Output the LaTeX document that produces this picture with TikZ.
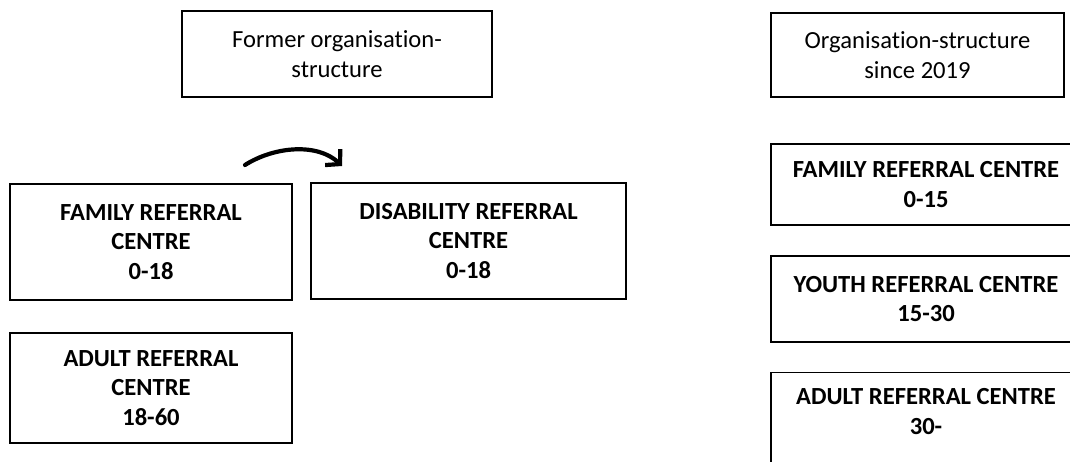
\documentclass[tikz,border=0pt]{standalone}
\usepackage{fontspec}
\setmainfont{Carlito}[Ligatures=NoCommon]
\usetikzlibrary{arrows.meta}

\begin{document}
\begin{tikzpicture}[x=0.5pt,y=-0.5pt,
	box/.style={draw,line width=0.6pt,align=center,inner sep=0pt,font=\fontsize{12.3}{14.8}\selectfont},
	unit/.style={box,font=\fontsize{12.3}{14.8}\selectfont\bfseries},
	move/.style={line width=2.1pt,line cap=round,-{Straight Barb[length=5pt,width=11pt,line width=2.1pt]}}]
	\useasboundingbox (0,0) rectangle (1070,461);
	\node[box,minimum width=155pt,minimum height=43pt] (former) at (337,54) {Former organisation-\\structure};
	\node[box,minimum width=146.5pt,minimum height=42pt] (current) at (917.5,55) {Organisation-structure\\since 2019};
	% former structure
	\node[unit,minimum width=141pt,minimum height=58pt] (family) at (151,242) {FAMILY REFERRAL\\CENTRE\\0-18};
	\node[unit,minimum width=157.5pt,minimum height=58pt] (disability) at (468.5,241) {DISABILITY REFERRAL\\CENTRE\\0-18};
	\node[unit,minimum width=141pt,minimum height=55pt] (adult) at (151,388) {ADULT REFERRAL\\CENTRE\\18-60};
	% since 2019
	\node[unit,minimum width=155pt,minimum height=40.5pt] (familyR) at (926,184.5) {FAMILY REFERRAL CENTRE\\0-15};
	\node[unit,minimum width=155pt,minimum height=43pt] (youthR) at (926,299) {YOUTH REFERRAL CENTRE\\15-30};
	\node[unit,minimum width=155pt,minimum height=50pt,anchor=north] (adultR) at (926,372) {};
	\node[unit,draw=none,anchor=north] (adultRtext) at ([yshift=-8pt]adultR.north) {ADULT REFERRAL CENTRE\\30-};
	\coordinate (moveStart) at (245,165);
	\coordinate (moveEnd) at (342,166);
	\draw[move] (moveStart) .. controls (275,146) and (318,143) .. (moveEnd);
\end{tikzpicture}
\end{document}
